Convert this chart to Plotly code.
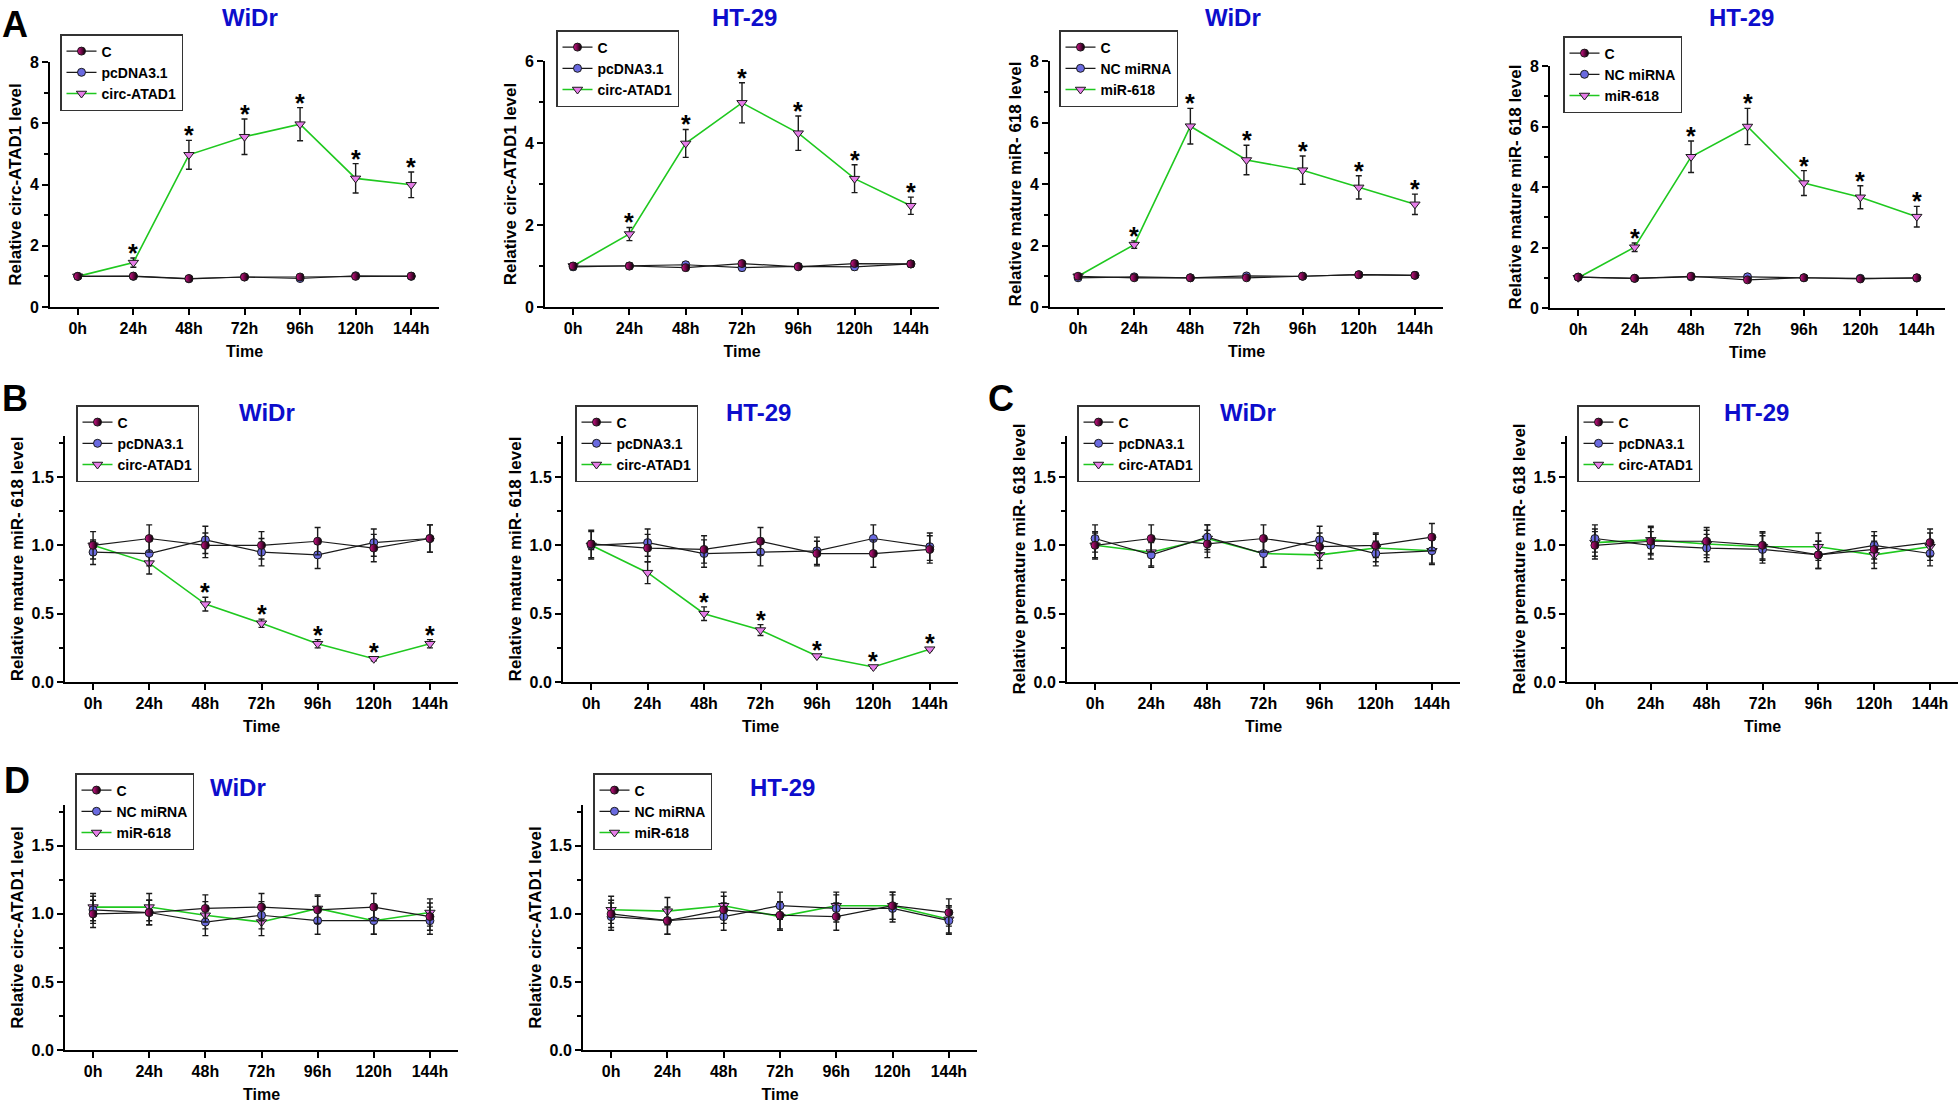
import plotly.graph_objects as go

W, H = 1960, 1104
FONT = "Liberation Sans, Arial, sans-serif"

hours = ["0h", "24h", "48h", "72h", "96h", "120h", "144h"]
names_circ = ["C", "pcDNA3.1", "circ-ATAD1"]
names_mir = ["C", "NC miRNA", "miR-618"]

# ---- Panel A1: WiDr, circ-ATAD1 level after circ-ATAD1 overexpression
a1_c = [1.00, 1.01, 0.93, 0.98, 0.98, 1.00, 1.01]
a1_c_err = [0.06, 0.05, 0.06, 0.05, 0.05, 0.06, 0.05]
a1_vec = [1.00, 1.00, 0.92, 0.98, 0.93, 1.02, 1.00]
a1_vec_err = [0.06, 0.05, 0.06, 0.05, 0.05, 0.06, 0.05]
a1_trt = [1.00, 1.45, 4.97, 5.56, 5.97, 4.20, 3.99]
a1_trt_err = [0.05, 0.15, 0.47, 0.58, 0.54, 0.48, 0.42]

# ---- Panel A2: HT-29, circ-ATAD1 level
a2_c = [1.00, 1.00, 0.96, 1.06, 0.98, 1.06, 1.05]
a2_c_err = [0.07, 0.07, 0.07, 0.07, 0.06, 0.07, 0.07]
a2_vec = [0.98, 1.00, 1.03, 0.96, 0.99, 0.98, 1.05]
a2_vec_err = [0.07, 0.07, 0.07, 0.07, 0.06, 0.07, 0.07]
a2_trt = [1.00, 1.78, 3.99, 4.98, 4.24, 3.13, 2.47]
a2_trt_err = [0.05, 0.16, 0.34, 0.49, 0.42, 0.34, 0.21]

# ---- Panel A3: WiDr, mature miR-618 after miR-618 mimic
a3_c = [1.00, 0.95, 0.95, 0.95, 1.00, 1.05, 1.03]
a3_c_err = [0.05, 0.05, 0.05, 0.05, 0.05, 0.05, 0.05]
a3_vec = [0.95, 0.98, 0.95, 1.01, 1.00, 1.05, 1.03]
a3_vec_err = [0.05, 0.05, 0.05, 0.05, 0.05, 0.05, 0.05]
a3_trt = [1.00, 2.03, 5.88, 4.78, 4.45, 3.89, 3.34]
a3_trt_err = [0.05, 0.12, 0.58, 0.48, 0.46, 0.38, 0.33]

# ---- Panel A4: HT-29, mature miR-618
a4_c = [1.02, 0.98, 1.05, 0.93, 1.00, 0.96, 1.00]
a4_c_err = [0.05, 0.05, 0.05, 0.05, 0.05, 0.05, 0.05]
a4_vec = [1.02, 0.98, 1.03, 1.03, 1.00, 0.98, 0.99]
a4_vec_err = [0.05, 0.05, 0.05, 0.05, 0.05, 0.05, 0.05]
a4_trt = [1.00, 2.01, 5.00, 6.00, 4.13, 3.66, 3.02]
a4_trt_err = [0.05, 0.14, 0.52, 0.60, 0.41, 0.38, 0.34]

# ---- Panel B1: WiDr, mature miR-618 after circ-ATAD1
b1_c = [1.00, 1.05, 1.00, 1.00, 1.03, 0.98, 1.05]
b1_c_err = [0.10, 0.10, 0.09, 0.10, 0.10, 0.10, 0.10]
b1_vec = [0.95, 0.94, 1.04, 0.95, 0.93, 1.02, 1.05]
b1_vec_err = [0.09, 0.09, 0.10, 0.10, 0.10, 0.10, 0.10]
b1_trt = [1.00, 0.87, 0.57, 0.43, 0.28, 0.17, 0.28]
b1_trt_err = [0.03, 0.08, 0.05, 0.03, 0.03, 0.015, 0.03]

# ---- Panel B2: HT-29, mature miR-618
b2_c = [1.01, 0.98, 0.97, 1.03, 0.94, 0.94, 0.97]
b2_c_err = [0.10, 0.10, 0.10, 0.10, 0.09, 0.10, 0.10]
b2_vec = [1.00, 1.02, 0.94, 0.95, 0.96, 1.05, 0.99]
b2_vec_err = [0.10, 0.10, 0.10, 0.10, 0.10, 0.10, 0.10]
b2_trt = [1.00, 0.80, 0.50, 0.38, 0.19, 0.11, 0.24]
b2_trt_err = [0.03, 0.08, 0.05, 0.04, 0.01, 0.01, 0.01]

# ---- Panel C1: WiDr, premature miR-618
c1_c = [1.00, 1.05, 1.01, 1.05, 0.99, 1.00, 1.06]
c1_c_err = [0.10, 0.10, 0.10, 0.10, 0.10, 0.09, 0.10]
c1_vec = [1.05, 0.93, 1.06, 0.94, 1.04, 0.94, 0.96]
c1_vec_err = [0.10, 0.09, 0.09, 0.10, 0.10, 0.09, 0.09]
c1_trt = [1.00, 0.95, 1.05, 0.94, 0.93, 0.98, 0.96]
c1_trt_err = [0.09, 0.10, 0.10, 0.10, 0.10, 0.10, 0.10]

# ---- Panel C2: HT-29, premature miR-618
c2_c = [1.00, 1.03, 1.03, 1.00, 0.93, 0.97, 1.02]
c2_c_err = [0.10, 0.10, 0.10, 0.10, 0.10, 0.10, 0.10]
c2_vec = [1.05, 1.00, 0.98, 0.97, 0.93, 1.00, 0.94]
c2_vec_err = [0.10, 0.10, 0.10, 0.10, 0.10, 0.10, 0.09]
c2_trt = [1.02, 1.04, 1.01, 0.99, 0.99, 0.93, 0.99]
c2_trt_err = [0.10, 0.10, 0.10, 0.10, 0.10, 0.10, 0.10]

# ---- Panel D1: WiDr, circ-ATAD1 after miR-618
d1_c = [1.00, 1.01, 1.04, 1.05, 1.03, 1.05, 0.98]
d1_c_err = [0.10, 0.09, 0.10, 0.10, 0.10, 0.10, 0.10]
d1_vec = [1.03, 1.01, 0.94, 0.99, 0.95, 0.95, 0.95]
d1_vec_err = [0.10, 0.09, 0.10, 0.10, 0.10, 0.10, 0.10]
d1_trt = [1.05, 1.05, 0.99, 0.94, 1.04, 0.95, 1.01]
d1_trt_err = [0.10, 0.10, 0.10, 0.10, 0.10, 0.10, 0.10]

# ---- Panel D2: HT-29, circ-ATAD1 after miR-618
d2_c = [1.00, 0.95, 1.03, 0.99, 0.98, 1.06, 1.01]
d2_c_err = [0.10, 0.10, 0.10, 0.10, 0.10, 0.10, 0.10]
d2_vec = [0.98, 0.95, 0.98, 1.06, 1.04, 1.04, 0.95]
d2_vec_err = [0.10, 0.10, 0.10, 0.10, 0.10, 0.10, 0.10]
d2_trt = [1.03, 1.02, 1.06, 0.98, 1.06, 1.06, 0.96]
d2_trt_err = [0.10, 0.10, 0.10, 0.10, 0.10, 0.10, 0.10]

stars_A = [1, 2, 3, 4, 5, 6]
stars_B = [2, 3, 4, 5, 6]

ytitle_A1 = "Relative circ-ATAD1 level"
ytitle_A3 = "Relative mature miR- 618 level"
ytitle_C = "Relative premature miR- 618 level"

panels = [
    dict(d=(a1_c, a1_c_err, a1_vec, a1_vec_err, a1_trt, a1_trt_err), names=names_circ, stars=stars_A,
         title="WiDr", yt=ytitle_A1, ymax=8, dt=2, mn=1, box=(50, 439, 307, 62), leg=(60, 42), tpos=(250, 17)),
    dict(d=(a2_c, a2_c_err, a2_vec, a2_vec_err, a2_trt, a2_trt_err), names=names_circ, stars=stars_A,
         title="HT-29", yt=ytitle_A1, ymax=6, dt=2, mn=1, box=(545, 939, 307, 61), leg=(556, 38), tpos=(744, 17)),
    dict(d=(a3_c, a3_c_err, a3_vec, a3_vec_err, a3_trt, a3_trt_err), names=names_mir, stars=stars_A,
         title="WiDr", yt=ytitle_A3, ymax=8, dt=2, mn=1, box=(1050, 1443, 307, 61), leg=(1059, 38), tpos=(1233, 17)),
    dict(d=(a4_c, a4_c_err, a4_vec, a4_vec_err, a4_trt, a4_trt_err), names=names_mir, stars=stars_A,
         title="HT-29", yt=ytitle_A3, ymax=8, dt=2, mn=1, box=(1550, 1945, 308, 66), leg=(1563, 44), tpos=(1741, 17)),
    dict(d=(b1_c, b1_c_err, b1_vec, b1_vec_err, b1_trt, b1_trt_err), names=names_circ, stars=stars_B,
         title="WiDr", yt=ytitle_A3, ymax=1.8, dt=0.5, mn=0.25, box=(65, 458, 682, 436), leg=(76, 413), tpos=(267, 412)),
    dict(d=(b2_c, b2_c_err, b2_vec, b2_vec_err, b2_trt, b2_trt_err), names=names_circ, stars=stars_B,
         title="HT-29", yt=ytitle_A3, ymax=1.8, dt=0.5, mn=0.25, box=(563, 958, 682, 436), leg=(575, 413), tpos=(758, 412)),
    dict(d=(c1_c, c1_c_err, c1_vec, c1_vec_err, c1_trt, c1_trt_err), names=names_circ, stars=[],
         title="WiDr", yt=ytitle_C, ymax=1.8, dt=0.5, mn=0.25, box=(1067, 1460, 682, 436), leg=(1077, 413), tpos=(1248, 412)),
    dict(d=(c2_c, c2_c_err, c2_vec, c2_vec_err, c2_trt, c2_trt_err), names=names_circ, stars=[],
         title="HT-29", yt=ytitle_C, ymax=1.8, dt=0.5, mn=0.25, box=(1567, 1958, 682, 436), leg=(1577, 413), tpos=(1756, 412)),
    dict(d=(d1_c, d1_c_err, d1_vec, d1_vec_err, d1_trt, d1_trt_err), names=names_mir, stars=[],
         title="WiDr", yt=ytitle_A1, ymax=1.8, dt=0.5, mn=0.25, box=(65, 458, 1050, 805), leg=(75, 781), tpos=(238, 787)),
    dict(d=(d2_c, d2_c_err, d2_vec, d2_vec_err, d2_trt, d2_trt_err), names=names_mir, stars=[],
         title="HT-29", yt=ytitle_A1, ymax=1.8, dt=0.5, mn=0.25, box=(583, 977, 1050, 805), leg=(593, 781), tpos=(782, 787)),
]

panel_letters = [("A", 0, 2), ("B", 0, 376), ("C", 986, 376), ("D", 2, 758)]

C_FILL = "#d8108c"
VEC_FILL = "#6a6ae0"
TRT_FILL = "#e67de8"
GREEN = "#1fc81f"
DARK = "#1a1a1a"
LEG_SHIFT = 8  # plotly legend has more inner padding than the original

fig = go.Figure()
layout = dict(
    template="none",
    width=W, height=H, autosize=False, margin=dict(l=0, r=0, t=0, b=0, pad=0),
    paper_bgcolor="white", plot_bgcolor="white",
    font=dict(family=FONT, color="black", size=14),
    annotations=[], showlegend=True,
)

x_idx = list(range(len(hours)))

for i, p in enumerate(panels, start=1):
    sfx = "" if i == 1 else str(i)
    xa, ya, lg = "x" + sfx, "y" + sfx, "legend" + sfx
    c, ce, v, ve, t, te = p["d"]
    n_c, n_v, n_t = p["names"]
    eb = lambda arr: dict(type="data", array=arr, color=DARK, thickness=1.4, width=3)

    fig.add_trace(go.Scatter(
        x=x_idx, y=t, error_y=eb(te), name=n_t, mode="lines+markers", legend=lg, legendrank=3,
        xaxis=xa, yaxis=ya, line=dict(color=GREEN, width=1.6),
        marker=dict(symbol="triangle-down", size=9, color=TRT_FILL, line=dict(color=DARK, width=1)),
        hoverinfo="skip"))
    fig.add_trace(go.Scatter(
        x=x_idx, y=v, error_y=eb(ve), name=n_v, mode="lines+markers", legend=lg, legendrank=2,
        xaxis=xa, yaxis=ya, line=dict(color=DARK, width=1.2),
        marker=dict(symbol="circle", size=8, color=VEC_FILL, line=dict(color=DARK, width=1)),
        hoverinfo="skip"))
    fig.add_trace(go.Scatter(
        x=x_idx, y=c, error_y=eb(ce), name=n_c, mode="lines+markers", legend=lg, legendrank=1,
        xaxis=xa, yaxis=ya, line=dict(color=DARK, width=1.2),
        marker=dict(symbol="circle", size=8, color=C_FILL, line=dict(color=DARK, width=1),
                    gradient=dict(type="horizontal", color="#000000")),
        hoverinfo="skip"))
    for k in p["stars"]:
        layout["annotations"].append(dict(
            text="*", x=x_idx[k], y=t[k] + te[k], xref=xa, yref=ya, showarrow=False,
            xanchor="center", yanchor="middle", yshift=5,
            font=dict(size=25, color="black", family=FONT, weight="bold")))

    x0, x1, yb, yt = p["box"]
    axis_common = dict(showline=True, linecolor="black", linewidth=2, ticks="outside", ticklen=6,
                       tickwidth=2, tickcolor="black", showgrid=False, zeroline=False, fixedrange=True,
                       automargin=False, mirror=False,
                       tickfont=dict(size=16, family=FONT, weight="bold", color="black"))
    layout["xaxis" + sfx] = dict(
        axis_common, domain=[x0 / W, x1 / W], anchor=ya, range=[-0.5, 6.5],
        tickmode="array", tickvals=x_idx, ticktext=hours,
        title=dict(text="Time", font=dict(size=16, family=FONT, weight="bold"), standoff=10))
    layout["yaxis" + sfx] = dict(
        axis_common, domain=[1 - yb / H, 1 - yt / H], anchor=xa, range=[0, p["ymax"]],
        dtick=p["dt"], tick0=0, tickformat=".1f" if p["dt"] < 1 else "d",
        minor=dict(ticks="outside", ticklen=4, tickwidth=1.5, tickcolor="black", dtick=p["mn"], showgrid=False),
        title=dict(text=p["yt"], font=dict(size=17, family=FONT, weight="bold"), standoff=4))
    lx, ly = p["leg"]
    layout[lg] = dict(x=lx / W, y=1 - (ly - LEG_SHIFT) / H, xanchor="left", yanchor="top", bgcolor="white",
                      bordercolor="#333", borderwidth=1.5, itemwidth=30, tracegroupgap=0,
                      font=dict(size=14, family=FONT, weight="bold", color="black"))
    tx, ty = p["tpos"]
    layout["annotations"].append(dict(
        text=p["title"], x=tx / W, y=1 - ty / H, xref="paper", yref="paper", showarrow=False,
        xanchor="center", yanchor="middle",
        font=dict(size=24, family=FONT, weight="bold", color="#0d0dcc")))

for letter, lx, ly in panel_letters:
    layout["annotations"].append(dict(
        text=letter, x=lx / W, y=1 - ly / H, xref="paper", yref="paper", showarrow=False,
        xanchor="left", yanchor="top", font=dict(size=36, family=FONT, weight="bold", color="black")))

fig.update_layout(**layout)
fig.write_html("out.html", config={"displayModeBar": False},
               post_script="document.body.style.margin='0px';")
